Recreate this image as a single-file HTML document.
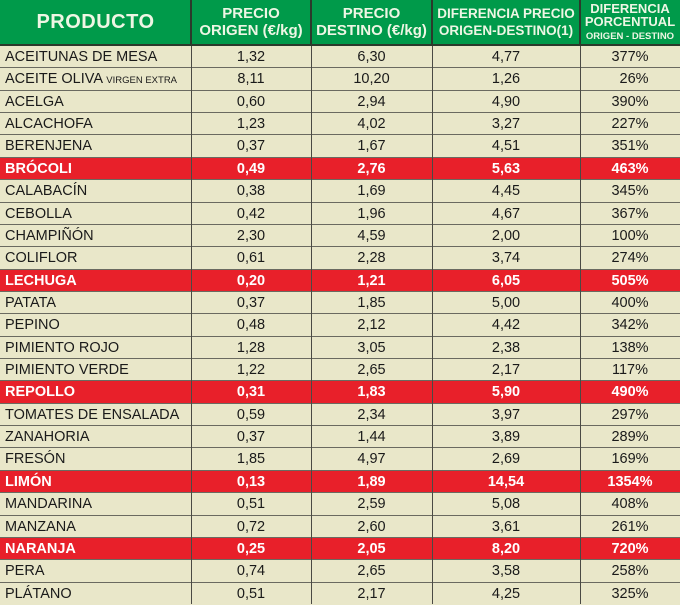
<!DOCTYPE html>
<html><head><meta charset="utf-8"><style>
*{margin:0;padding:0;box-sizing:border-box}
body{width:680px;height:604px;overflow:hidden;background:#e9e7c9;font-family:"Liberation Sans",Arial,sans-serif;position:relative}
.hdr{position:absolute;left:0;top:0;width:680px;height:46px;background:#009a4a;border-bottom:2px solid #2b3a2b}
.h{position:absolute;top:0;height:44px;display:flex;align-items:center;justify-content:center;text-align:center;color:#eef6e4;font-weight:bold;line-height:17px;font-size:15px}
.h > div{display:block;text-align:center}
.r{position:absolute;left:0;width:680px;height:22.36px;border-bottom:1px solid #6a6a60;font-size:14.5px;color:#1a1a1a}
.r.red{background:#e8202a;color:#fff;font-weight:bold}
.c{position:absolute;top:0;height:22px;line-height:22px;text-align:center}
.c0{left:5px;text-align:left}
.c1{left:191px;width:120px}
.c2{left:311px;width:121px}
.c3{left:432px;width:148px}
.c4{left:580px;width:100px}
.v{position:absolute;top:0;bottom:0;width:1.5px;background:#4a4a44}
.hv{position:absolute;top:0;height:46px;width:2px;background:#2b3a2b}
</style></head><body>
<div class="hdr"></div>
<div class="h" style="left:0;width:191px;font-size:20px;letter-spacing:0.5px"><div>PRODUCTO</div></div>
<div class="h" style="left:191px;width:120px"><div>PRECIO<br>ORIGEN (€/kg)</div></div>
<div class="h" style="left:311px;width:121px"><div>PRECIO<br>DESTINO (€/kg)</div></div>
<div class="h" style="left:432px;width:148px;font-size:13.5px"><div>DIFERENCIA PRECIO<br>ORIGEN-DESTINO(1)</div></div>
<div class="h" style="left:580px;width:100px;font-size:13px;line-height:13px"><div>DIFERENCIA<br>PORCENTUAL<br><span style="font-size:9.5px">ORIGEN - DESTINO</span></div></div>

<div class="r" style="top:46px"><div class="c c0">ACEITUNAS DE MESA</div><div class="c c1">1,32</div><div class="c c2">6,30</div><div class="c c3">4,77</div><div class="c c4">377%</div></div>
<div class="r" style="top:68.36px"><div class="c c0">ACEITE OLIVA <span style="font-size:9.5px">VIRGEN EXTRA</span></div><div class="c c1">8,11</div><div class="c c2">10,20</div><div class="c c3">1,26</div><div class="c c4">&nbsp;&nbsp;26%</div></div>
<div class="r" style="top:90.72px"><div class="c c0">ACELGA</div><div class="c c1">0,60</div><div class="c c2">2,94</div><div class="c c3">4,90</div><div class="c c4">390%</div></div>
<div class="r" style="top:113.08px"><div class="c c0">ALCACHOFA</div><div class="c c1">1,23</div><div class="c c2">4,02</div><div class="c c3">3,27</div><div class="c c4">227%</div></div>
<div class="r" style="top:135.44px"><div class="c c0">BERENJENA</div><div class="c c1">0,37</div><div class="c c2">1,67</div><div class="c c3">4,51</div><div class="c c4">351%</div></div>
<div class="r red" style="top:157.8px"><div class="c c0">BRÓCOLI</div><div class="c c1">0,49</div><div class="c c2">2,76</div><div class="c c3">5,63</div><div class="c c4">463%</div></div>
<div class="r" style="top:180.16px"><div class="c c0">CALABACÍN</div><div class="c c1">0,38</div><div class="c c2">1,69</div><div class="c c3">4,45</div><div class="c c4">345%</div></div>
<div class="r" style="top:202.52px"><div class="c c0">CEBOLLA</div><div class="c c1">0,42</div><div class="c c2">1,96</div><div class="c c3">4,67</div><div class="c c4">367%</div></div>
<div class="r" style="top:224.88px"><div class="c c0">CHAMPIÑÓN</div><div class="c c1">2,30</div><div class="c c2">4,59</div><div class="c c3">2,00</div><div class="c c4">100%</div></div>
<div class="r" style="top:247.24px"><div class="c c0">COLIFLOR</div><div class="c c1">0,61</div><div class="c c2">2,28</div><div class="c c3">3,74</div><div class="c c4">274%</div></div>
<div class="r red" style="top:269.6px"><div class="c c0">LECHUGA</div><div class="c c1">0,20</div><div class="c c2">1,21</div><div class="c c3">6,05</div><div class="c c4">505%</div></div>
<div class="r" style="top:291.96px"><div class="c c0">PATATA</div><div class="c c1">0,37</div><div class="c c2">1,85</div><div class="c c3">5,00</div><div class="c c4">400%</div></div>
<div class="r" style="top:314.32px"><div class="c c0">PEPINO</div><div class="c c1">0,48</div><div class="c c2">2,12</div><div class="c c3">4,42</div><div class="c c4">342%</div></div>
<div class="r" style="top:336.68px"><div class="c c0">PIMIENTO ROJO</div><div class="c c1">1,28</div><div class="c c2">3,05</div><div class="c c3">2,38</div><div class="c c4">138%</div></div>
<div class="r" style="top:359.04px"><div class="c c0">PIMIENTO VERDE</div><div class="c c1">1,22</div><div class="c c2">2,65</div><div class="c c3">2,17</div><div class="c c4">117%</div></div>
<div class="r red" style="top:381.4px"><div class="c c0">REPOLLO</div><div class="c c1">0,31</div><div class="c c2">1,83</div><div class="c c3">5,90</div><div class="c c4">490%</div></div>
<div class="r" style="top:403.76px"><div class="c c0">TOMATES DE ENSALADA</div><div class="c c1">0,59</div><div class="c c2">2,34</div><div class="c c3">3,97</div><div class="c c4">297%</div></div>
<div class="r" style="top:426.12px"><div class="c c0">ZANAHORIA</div><div class="c c1">0,37</div><div class="c c2">1,44</div><div class="c c3">3,89</div><div class="c c4">289%</div></div>
<div class="r" style="top:448.48px"><div class="c c0">FRESÓN</div><div class="c c1">1,85</div><div class="c c2">4,97</div><div class="c c3">2,69</div><div class="c c4">169%</div></div>
<div class="r red" style="top:470.84px"><div class="c c0">LIMÓN</div><div class="c c1">0,13</div><div class="c c2">1,89</div><div class="c c3">14,54</div><div class="c c4">1354%</div></div>
<div class="r" style="top:493.2px"><div class="c c0">MANDARINA</div><div class="c c1">0,51</div><div class="c c2">2,59</div><div class="c c3">5,08</div><div class="c c4">408%</div></div>
<div class="r" style="top:515.56px"><div class="c c0">MANZANA</div><div class="c c1">0,72</div><div class="c c2">2,60</div><div class="c c3">3,61</div><div class="c c4">261%</div></div>
<div class="r red" style="top:537.92px"><div class="c c0">NARANJA</div><div class="c c1">0,25</div><div class="c c2">2,05</div><div class="c c3">8,20</div><div class="c c4">720%</div></div>
<div class="r" style="top:560.28px"><div class="c c0">PERA</div><div class="c c1">0,74</div><div class="c c2">2,65</div><div class="c c3">3,58</div><div class="c c4">258%</div></div>
<div class="r" style="top:582.64px;border-bottom:none"><div class="c c0">PLÁTANO</div><div class="c c1">0,51</div><div class="c c2">2,17</div><div class="c c3">4,25</div><div class="c c4">325%</div></div>

<div class="v" style="left:190.5px;top:46px"></div>
<div class="v" style="left:310.5px;top:46px"></div>
<div class="v" style="left:431.5px;top:46px"></div>
<div class="v" style="left:579.5px;top:46px"></div>
<div class="hv" style="left:190px"></div>
<div class="hv" style="left:310px"></div>
<div class="hv" style="left:431px"></div>
<div class="hv" style="left:579px"></div>
</body></html>
